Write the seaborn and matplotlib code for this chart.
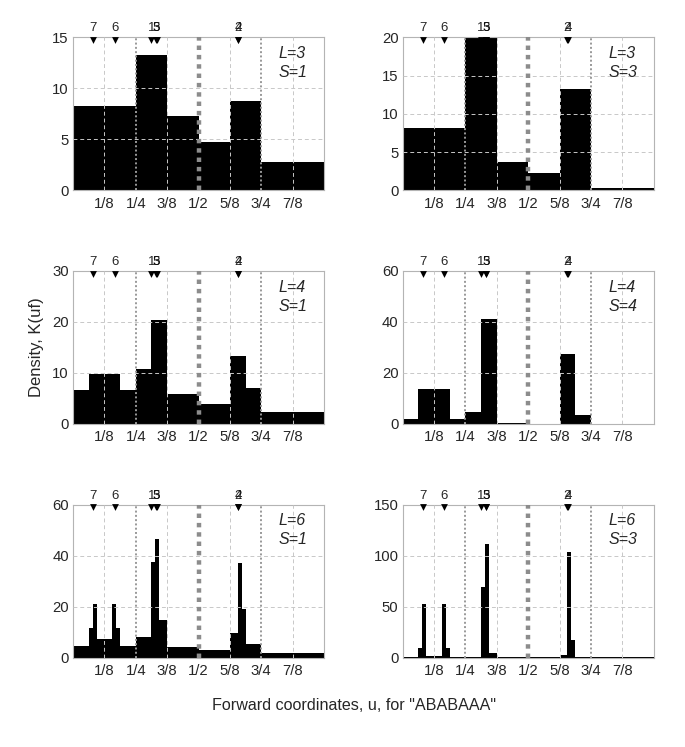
"""
Forward-coordinate density histograms for "ABABAAA".
"""

import numpy as np
import pandas as pd
import matplotlib
matplotlib.use("Agg")
import matplotlib.pyplot as plt
import matplotlib.transforms as mtransforms
import seaborn as sns

sns.set_style("white")
plt.rcParams['font.family'] = ['Liberation Sans', 'DejaVu Sans']
plt.rcParams['axes.unicode_minus'] = False

# Densities per bin (bins of width 1/2^L on [0, 1])
L3_S1 = [8.26, 8.26, 13.26, 7.28, 4.7, 8.78, 2.74, 2.74]
L3_S3 = [8.1, 8.1, 19.87, 3.66, 2.22, 13.2, 0.35, 0.35]
L4_S1 = [6.75, 9.9, 9.9, 6.75, 10.7, 20.3, 5.8, 5.8,
         3.9, 3.9, 13.3, 7.0, 2.36, 2.36, 2.36, 2.36]
L4_S4 = [2.0, 13.7, 13.7, 2.0, 4.9, 41.2, 0.5, 0.5,
         0.15, 0.15, 27.5, 3.55, 0.1, 0.1, 0.1, 0.1]
L6_S1 = [4.7, 4.7, 4.7, 4.7, 11.6, 20.8, 7.4, 7.4,
         7.4, 7.4, 20.8, 11.6, 4.7, 4.7, 4.7, 4.7,
         8.2, 8.2, 8.2, 8.2, 37.5, 46.6, 14.6, 14.6,
         4.3, 4.3, 4.3, 4.3, 4.3, 4.3, 4.3, 4.3,
         2.8, 2.8, 2.8, 2.8, 2.8, 2.8, 2.8, 2.8,
         9.8, 9.8, 37.0, 19.0, 5.3, 5.3, 5.3, 5.3,
         1.95, 1.95, 1.95, 1.95, 1.95, 1.95, 1.95, 1.95,
         1.95, 1.95, 1.95, 1.95, 1.95, 1.95, 1.95, 1.95]
L6_S3 = [0.6, 0.6, 0.6, 0.6, 9.2, 52.0, 1.6, 1.6,
         1.6, 1.6, 52.0, 9.2, 0.6, 0.6, 0.6, 0.6,
         0.3, 0.3, 0.3, 0.3, 69.0, 111.4, 4.2, 4.2,
         0.3, 0.3, 0.3, 0.3, 0.3, 0.3, 0.3, 0.3,
         0.2, 0.2, 0.2, 0.2, 0.2, 0.2, 0.2, 0.2,
         2.6, 2.6, 103.0, 17.3, 0.5, 0.5, 0.5, 0.5,
         0.1, 0.1, 0.1, 0.1, 0.1, 0.1, 0.1, 0.1,
         0.1, 0.1, 0.1, 0.1, 0.1, 0.1, 0.1, 0.1]

panel_data = [L3_S1, L3_S3, L4_S1, L4_S4, L6_S1, L6_S3]
panel_text = ["L=3\nS=1", "L=3\nS=3", "L=4\nS=1", "L=4\nS=4", "L=6\nS=1", "L=6\nS=3"]
panel_ymax = [15, 20, 30, 60, 60, 150]
panel_yticks = [[0, 5, 10, 15], [0, 5, 10, 15, 20], [0, 10, 20, 30],
                [0, 20, 40, 60], [0, 20, 40, 60], [0, 50, 100, 150]]

# Positions of the sequence letters (labels 1..7)
marker_labels = ["1", "2", "3", "4", "5", "6", "7"]
marker_pos = [0.3125, 0.656, 0.331, 0.659, 0.333, 0.166, 0.08]

xtick_pos = [1/8, 2/8, 3/8, 4/8, 5/8, 6/8, 7/8]
xtick_labels = ["1/8", "1/4", "3/8", "1/2", "5/8", "3/4", "7/8"]

fig = plt.figure(figsize=(6.85, 7.47), dpi=100)

lefts = [73 / 685, 402.7 / 685]
bottoms = [1 - 190.3 / 747, 1 - 424.0 / 747, 1 - 657.5 / 747]
w, h = 251 / 685, 153 / 747

for i, vals in enumerate(panel_data):
    r, c = divmod(i, 2)
    ax = fig.add_axes([lefts[c], bottoms[r], w, h])
    n = len(vals)
    edges = np.linspace(0, 1, n + 1)
    df = pd.DataFrame({'u': (edges[:-1] + edges[1:]) / 2, 'k': vals})
    sns.histplot(data=df, x='u', weights='k', bins=edges.tolist(), stat='count',
                 color='black', alpha=1, linewidth=0, ax=ax, zorder=1)

    ax.set_xlim(0, 1)
    ax.set_ylim(0, panel_ymax[i])
    ax.set_yticks(panel_yticks[i])
    ax.set_xticks(xtick_pos)
    ax.set_xticklabels(xtick_labels)
    ax.set_xlabel("")
    ax.set_ylabel("")
    ax.tick_params(length=0, labelsize=10.7)
    ax.tick_params(axis='x', pad=4.5)
    ax.tick_params(axis='y', pad=3)

    # grid on top of the bars
    for xv in [1/8, 3/8, 5/8, 7/8]:
        ax.axvline(xv, color='#c8c8c8', lw=0.7, ls=(0, (4, 3)), zorder=3)
    for yv in panel_yticks[i][1:-1]:
        ax.axhline(yv, color='#c8c8c8', lw=0.7, ls=(0, (4, 3)), zorder=3)
    for xv in [1/4, 3/4]:
        ax.axvline(xv, color='#999999', lw=1.4, ls=(0, (1, 1.2)), zorder=4)
    ax.axvline(0.5, color='#8c8c8c', lw=3.2, ls=(0, (1, 1.1)), zorder=4)

    for sp in ax.spines.values():
        sp.set_color('#b4b4b4')
        sp.set_linewidth(0.8)

    trans = mtransforms.blended_transform_factory(ax.transData, ax.transAxes)
    ax.scatter(marker_pos, [0.982] * len(marker_pos), marker='v', s=24,
               color='black', transform=trans, clip_on=False, zorder=6,
               linewidths=0)
    for lab, xp in zip(marker_labels, marker_pos):
        ax.text(xp, 1.058, lab, transform=trans, ha='center', va='center',
                fontsize=9.5, color='black', alpha=0.85)

    ax.text(0.82, 0.895, panel_text[i].split("\n")[0], transform=ax.transAxes,
            ha='left', va='center', fontsize=11.5, style='italic')
    ax.text(0.82, 0.77, panel_text[i].split("\n")[1], transform=ax.transAxes,
            ha='left', va='center', fontsize=11.5, style='italic')

fig.text(36 / 685, 1 - 347 / 747, "Density, K(uf)", rotation=90,
         ha='center', va='center', fontsize=12)
fig.text(354 / 685, 1 - 705 / 747, 'Forward coordinates, u, for "ABABAAA"',
         ha='center', va='center', fontsize=11.6)

fig.savefig("out.png", dpi=100)
